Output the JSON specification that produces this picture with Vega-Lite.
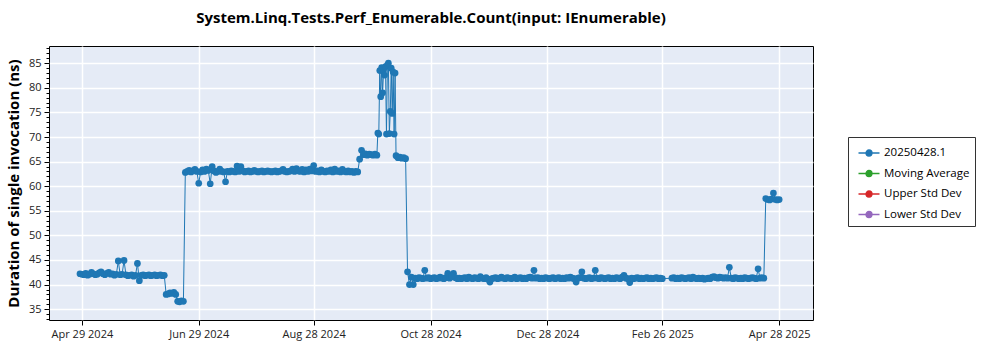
{
"$schema":"https://vega.github.io/schema/vega-lite/v6.json",
"width":764,"height":274,
"autosize":{"type":"none"},
"padding":{"left":49,"top":46,"right":187,"bottom":30},
"background":"white",
"config":{
 "view":{"fill":"#e5ebf6","stroke":"#000","strokeWidth":1},
 "font":"Open Sans",
 "axis":{"labelFont":"Open Sans","labelFontSize":11,"labelColor":"#222","tickColor":"#000","domain":false,"gridColor":"white","gridWidth":1.5,"tickSize":5}
},
"title":{"text":"System.Linq.Tests.Perf_Enumerable.Count(input: IEnumerable)","fontSize":15,"fontWeight":"bold","font":"Open Sans","anchor":"middle","offset":20,"color":"#000"},
"data":{"values":[
{"t":"2024-04-28","v":42.2},{"t":"2024-04-29","v":42.1},{"t":"2024-04-30","v":42.0},{"t":"2024-05-01","v":42.3},{"t":"2024-05-02","v":41.9},{"t":"2024-05-03","v":42.1},{"t":"2024-05-04","v":42.5},{"t":"2024-05-05","v":42.2},{"t":"2024-05-06","v":42.0},{"t":"2024-05-07","v":42.1},{"t":"2024-05-08","v":42.4},{"t":"2024-05-09","v":42.6},{"t":"2024-05-10","v":42.2},{"t":"2024-05-11","v":42.0},{"t":"2024-05-12","v":42.3},{"t":"2024-05-13","v":42.5},{"t":"2024-05-14","v":42.1},{"t":"2024-05-15","v":42.2},{"t":"2024-05-16","v":41.9},{"t":"2024-05-17","v":42.1},{"t":"2024-05-18","v":44.8},{"t":"2024-05-19","v":42.0},{"t":"2024-05-20","v":42.1},{"t":"2024-05-21","v":44.9},{"t":"2024-05-22","v":42.0},{"t":"2024-05-23","v":41.8},{"t":"2024-05-24","v":41.9},{"t":"2024-05-25","v":42.0},{"t":"2024-05-26","v":41.7},{"t":"2024-05-27","v":41.9},{"t":"2024-05-28","v":44.3},{"t":"2024-05-29","v":40.8},{"t":"2024-05-30","v":41.9},{"t":"2024-05-31","v":42.0},
{"t":"2024-06-01","v":41.8},{"t":"2024-06-02","v":41.9},{"t":"2024-06-03","v":42.0},{"t":"2024-06-04","v":41.8},{"t":"2024-06-05","v":41.9},{"t":"2024-06-06","v":42.0},{"t":"2024-06-07","v":41.8},{"t":"2024-06-08","v":41.9},{"t":"2024-06-09","v":42.0},{"t":"2024-06-10","v":41.8},{"t":"2024-06-11","v":41.9},{"t":"2024-06-12","v":38.0},{"t":"2024-06-13","v":38.1},{"t":"2024-06-14","v":38.3},{"t":"2024-06-15","v":38.2},{"t":"2024-06-16","v":38.4},{"t":"2024-06-17","v":38.0},{"t":"2024-06-18","v":36.6},{"t":"2024-06-19","v":36.5},{"t":"2024-06-20","v":36.7},{"t":"2024-06-21","v":36.6},{"t":"2024-06-22","v":62.8},{"t":"2024-06-23","v":63.0},{"t":"2024-06-24","v":63.2},{"t":"2024-06-25","v":62.9},{"t":"2024-06-26","v":63.1},{"t":"2024-06-27","v":63.4},{"t":"2024-06-28","v":63.0},{"t":"2024-06-29","v":60.6},{"t":"2024-06-30","v":62.9},
{"t":"2024-07-01","v":63.3},{"t":"2024-07-02","v":63.0},{"t":"2024-07-03","v":63.5},{"t":"2024-07-04","v":63.2},{"t":"2024-07-05","v":60.5},{"t":"2024-07-06","v":64.0},{"t":"2024-07-07","v":63.1},{"t":"2024-07-08","v":62.8},{"t":"2024-07-09","v":63.0},{"t":"2024-07-10","v":63.5},{"t":"2024-07-11","v":63.0},{"t":"2024-07-12","v":62.9},{"t":"2024-07-13","v":60.9},{"t":"2024-07-14","v":63.0},{"t":"2024-07-15","v":62.9},{"t":"2024-07-16","v":63.1},{"t":"2024-07-17","v":63.0},{"t":"2024-07-18","v":62.9},{"t":"2024-07-19","v":64.1},{"t":"2024-07-20","v":63.0},{"t":"2024-07-21","v":64.0},{"t":"2024-07-22","v":63.1},{"t":"2024-07-23","v":62.9},{"t":"2024-07-24","v":63.0},{"t":"2024-07-25","v":63.1},{"t":"2024-07-26","v":62.9},{"t":"2024-07-27","v":63.0},{"t":"2024-07-28","v":63.2},{"t":"2024-07-29","v":63.0},{"t":"2024-07-30","v":62.9},{"t":"2024-07-31","v":63.0},
{"t":"2024-08-01","v":63.1},{"t":"2024-08-02","v":62.9},{"t":"2024-08-03","v":63.0},{"t":"2024-08-04","v":63.1},{"t":"2024-08-05","v":63.0},{"t":"2024-08-06","v":62.9},{"t":"2024-08-07","v":63.0},{"t":"2024-08-08","v":63.1},{"t":"2024-08-09","v":62.9},{"t":"2024-08-10","v":63.0},{"t":"2024-08-11","v":63.1},{"t":"2024-08-12","v":63.4},{"t":"2024-08-13","v":63.0},{"t":"2024-08-14","v":62.9},{"t":"2024-08-15","v":63.0},{"t":"2024-08-16","v":63.1},{"t":"2024-08-17","v":63.5},{"t":"2024-08-18","v":63.0},{"t":"2024-08-19","v":63.6},{"t":"2024-08-20","v":63.1},{"t":"2024-08-21","v":63.0},{"t":"2024-08-22","v":63.4},{"t":"2024-08-23","v":62.9},{"t":"2024-08-24","v":63.3},{"t":"2024-08-25","v":63.0},{"t":"2024-08-26","v":63.5},{"t":"2024-08-27","v":63.1},{"t":"2024-08-28","v":64.2},{"t":"2024-08-29","v":63.0},{"t":"2024-08-30","v":63.1},{"t":"2024-08-31","v":62.9},
{"t":"2024-09-01","v":63.3},{"t":"2024-09-02","v":63.0},{"t":"2024-09-03","v":62.9},{"t":"2024-09-04","v":63.1},{"t":"2024-09-05","v":63.0},{"t":"2024-09-06","v":63.3},{"t":"2024-09-07","v":62.9},{"t":"2024-09-08","v":63.5},{"t":"2024-09-09","v":63.0},{"t":"2024-09-10","v":63.1},{"t":"2024-09-11","v":62.9},{"t":"2024-09-12","v":63.4},{"t":"2024-09-13","v":63.0},{"t":"2024-09-14","v":62.9},{"t":"2024-09-15","v":63.1},{"t":"2024-09-16","v":62.9},{"t":"2024-09-17","v":63.0},{"t":"2024-09-18","v":62.8},{"t":"2024-09-19","v":63.0},{"t":"2024-09-20","v":62.9},{"t":"2024-09-21","v":65.5},{"t":"2024-09-22","v":67.3},{"t":"2024-09-23","v":66.4},{"t":"2024-09-24","v":66.6},{"t":"2024-09-25","v":66.3},{"t":"2024-09-26","v":66.5},{"t":"2024-09-27","v":66.4},{"t":"2024-09-28","v":66.3},{"t":"2024-09-29","v":66.5},{"t":"2024-09-30","v":66.3},
{"t":"2024-09-30T12:00:00Z","v":70.8},{"t":"2024-10-01","v":70.6},{"t":"2024-10-01T12:00:00Z","v":83.5},{"t":"2024-10-02","v":78.2},{"t":"2024-10-02T12:00:00Z","v":84.1},{"t":"2024-10-03","v":79.0},{"t":"2024-10-03T12:00:00Z","v":83.6},{"t":"2024-10-04","v":82.6},{"t":"2024-10-04T12:00:00Z","v":84.3},{"t":"2024-10-05","v":70.6},{"t":"2024-10-05T12:00:00Z","v":84.6},{"t":"2024-10-06","v":85.0},{"t":"2024-10-06T12:00:00Z","v":70.7},{"t":"2024-10-07","v":75.2},{"t":"2024-10-07T12:00:00Z","v":84.0},{"t":"2024-10-08","v":74.8},{"t":"2024-10-08T12:00:00Z","v":83.2},{"t":"2024-10-09","v":70.6},{"t":"2024-10-09T12:00:00Z","v":83.0},
{"t":"2024-10-10","v":66.2},{"t":"2024-10-11","v":65.8},{"t":"2024-10-12","v":65.9},{"t":"2024-10-13","v":65.7},{"t":"2024-10-14","v":65.8},{"t":"2024-10-15","v":65.6},{"t":"2024-10-16","v":42.6},{"t":"2024-10-17","v":40.0},{"t":"2024-10-18","v":41.5},{"t":"2024-10-19","v":40.0},{"t":"2024-10-20","v":41.3},{"t":"2024-10-21","v":41.2},{"t":"2024-10-22","v":41.4},{"t":"2024-10-23","v":41.3},{"t":"2024-10-24","v":41.2},{"t":"2024-10-25","v":42.9},{"t":"2024-10-26","v":41.3},{"t":"2024-10-27","v":41.4},{"t":"2024-10-28","v":41.2},{"t":"2024-10-29","v":41.3},{"t":"2024-10-30","v":41.4},{"t":"2024-10-31","v":41.2},
{"t":"2024-11-01","v":41.3},{"t":"2024-11-02","v":41.5},{"t":"2024-11-03","v":41.3},{"t":"2024-11-04","v":41.2},{"t":"2024-11-05","v":41.4},{"t":"2024-11-06","v":42.3},{"t":"2024-11-07","v":41.3},{"t":"2024-11-08","v":41.6},{"t":"2024-11-09","v":42.3},{"t":"2024-11-10","v":41.4},{"t":"2024-11-11","v":41.2},{"t":"2024-11-12","v":41.3},{"t":"2024-11-13","v":41.2},{"t":"2024-11-14","v":41.3},{"t":"2024-11-15","v":41.4},{"t":"2024-11-16","v":41.2},{"t":"2024-11-17","v":41.5},{"t":"2024-11-18","v":41.3},{"t":"2024-11-19","v":41.2},{"t":"2024-11-20","v":41.4},{"t":"2024-11-21","v":41.3},{"t":"2024-11-22","v":41.2},{"t":"2024-11-23","v":41.6},{"t":"2024-11-24","v":41.3},{"t":"2024-11-25","v":41.2},{"t":"2024-11-26","v":41.4},{"t":"2024-11-27","v":41.1},{"t":"2024-11-28","v":40.5},{"t":"2024-11-29","v":41.2},{"t":"2024-11-30","v":41.3},
{"t":"2024-12-01","v":41.4},{"t":"2024-12-02","v":41.2},{"t":"2024-12-03","v":41.3},{"t":"2024-12-04","v":41.5},{"t":"2024-12-05","v":41.3},{"t":"2024-12-06","v":41.2},{"t":"2024-12-07","v":41.4},{"t":"2024-12-08","v":41.3},{"t":"2024-12-09","v":41.2},{"t":"2024-12-10","v":41.3},{"t":"2024-12-11","v":41.5},{"t":"2024-12-12","v":41.2},{"t":"2024-12-13","v":41.3},{"t":"2024-12-14","v":41.4},{"t":"2024-12-15","v":41.2},{"t":"2024-12-16","v":41.3},{"t":"2024-12-17","v":41.2},{"t":"2024-12-18","v":41.4},{"t":"2024-12-19","v":41.5},{"t":"2024-12-20","v":41.3},{"t":"2024-12-21","v":42.9},{"t":"2024-12-22","v":41.3},{"t":"2024-12-23","v":41.4},{"t":"2024-12-24","v":41.2},{"t":"2024-12-25","v":41.3},{"t":"2024-12-26","v":41.2},{"t":"2024-12-27","v":41.4},{"t":"2024-12-28","v":41.3},{"t":"2024-12-29","v":41.2},{"t":"2024-12-30","v":41.3},{"t":"2024-12-31","v":41.4},
{"t":"2025-01-01","v":41.2},{"t":"2025-01-02","v":41.3},{"t":"2025-01-03","v":41.4},{"t":"2025-01-04","v":41.2},{"t":"2025-01-05","v":41.3},{"t":"2025-01-06","v":41.2},{"t":"2025-01-07","v":41.4},{"t":"2025-01-08","v":41.3},{"t":"2025-01-09","v":41.5},{"t":"2025-01-10","v":41.3},{"t":"2025-01-11","v":41.2},{"t":"2025-01-12","v":40.5},{"t":"2025-01-13","v":41.3},{"t":"2025-01-14","v":41.4},{"t":"2025-01-15","v":42.6},{"t":"2025-01-16","v":41.3},{"t":"2025-01-17","v":41.2},{"t":"2025-01-18","v":41.3},{"t":"2025-01-19","v":41.4},{"t":"2025-01-20","v":41.2},{"t":"2025-01-21","v":41.3},{"t":"2025-01-22","v":42.9},{"t":"2025-01-23","v":41.3},{"t":"2025-01-24","v":41.2},{"t":"2025-01-25","v":41.4},{"t":"2025-01-26","v":41.3},{"t":"2025-01-27","v":41.2},{"t":"2025-01-28","v":41.3},{"t":"2025-01-29","v":41.4},{"t":"2025-01-30","v":41.2},{"t":"2025-01-31","v":41.3},
{"t":"2025-02-01","v":41.2},{"t":"2025-02-02","v":41.4},{"t":"2025-02-03","v":41.3},{"t":"2025-02-04","v":41.2},{"t":"2025-02-05","v":41.5},{"t":"2025-02-06","v":41.9},{"t":"2025-02-07","v":41.3},{"t":"2025-02-08","v":41.2},{"t":"2025-02-09","v":40.4},{"t":"2025-02-10","v":41.3},{"t":"2025-02-11","v":41.2},{"t":"2025-02-12","v":41.3},{"t":"2025-02-13","v":41.4},{"t":"2025-02-14","v":41.2},{"t":"2025-02-15","v":41.3},{"t":"2025-02-16","v":41.2},{"t":"2025-02-17","v":41.3},{"t":"2025-02-18","v":41.4},{"t":"2025-02-19","v":41.2},{"t":"2025-02-20","v":41.3},{"t":"2025-02-21","v":41.2},{"t":"2025-02-22","v":41.3},{"t":"2025-02-23","v":41.4},{"t":"2025-02-24","v":41.2},{"t":"2025-02-25","v":41.3},{"t":"2025-02-26","v":41.2},
{"t":"2025-03-03","v":41.3},{"t":"2025-03-04","v":41.4},{"t":"2025-03-05","v":41.2},{"t":"2025-03-06","v":41.3},{"t":"2025-03-07","v":41.2},{"t":"2025-03-08","v":41.4},{"t":"2025-03-09","v":41.3},{"t":"2025-03-10","v":41.2},{"t":"2025-03-11","v":41.3},{"t":"2025-03-12","v":41.4},{"t":"2025-03-13","v":41.2},{"t":"2025-03-14","v":41.5},{"t":"2025-03-15","v":41.3},{"t":"2025-03-16","v":41.2},{"t":"2025-03-17","v":41.3},{"t":"2025-03-18","v":41.2},{"t":"2025-03-19","v":41.3},{"t":"2025-03-20","v":41.1},{"t":"2025-03-21","v":41.2},{"t":"2025-03-22","v":41.3},{"t":"2025-03-23","v":41.2},{"t":"2025-03-24","v":41.5},{"t":"2025-03-25","v":41.6},{"t":"2025-03-26","v":41.4},{"t":"2025-03-27","v":41.3},{"t":"2025-03-28","v":41.5},{"t":"2025-03-29","v":41.4},{"t":"2025-03-30","v":41.3},{"t":"2025-03-31","v":41.4},
{"t":"2025-04-01","v":41.3},{"t":"2025-04-02","v":43.5},{"t":"2025-04-03","v":41.3},{"t":"2025-04-04","v":41.2},{"t":"2025-04-05","v":41.4},{"t":"2025-04-06","v":41.3},{"t":"2025-04-07","v":41.2},{"t":"2025-04-08","v":41.3},{"t":"2025-04-09","v":41.2},{"t":"2025-04-10","v":41.4},{"t":"2025-04-11","v":41.3},{"t":"2025-04-12","v":41.2},{"t":"2025-04-13","v":41.3},{"t":"2025-04-14","v":41.4},{"t":"2025-04-15","v":41.3},{"t":"2025-04-16","v":41.2},{"t":"2025-04-17","v":43.2},{"t":"2025-04-18","v":41.3},{"t":"2025-04-19","v":41.4},{"t":"2025-04-20","v":41.3},{"t":"2025-04-21","v":57.5},{"t":"2025-04-22","v":57.3},{"t":"2025-04-23","v":57.2},{"t":"2025-04-24","v":57.4},{"t":"2025-04-25","v":58.6},{"t":"2025-04-26","v":57.3},{"t":"2025-04-27","v":57.2},{"t":"2025-04-28","v":57.3}
]},
"encoding":{
 "x":{"field":"t","type":"temporal",
  "scale":{"type":"utc","domain":[{"year":2024,"month":"Apr","date":11,"hours":20,"utc":true},{"year":2025,"month":"May","date":15,"hours":16,"utc":true}]},
  "axis":{"title":null,"grid":true,"labelExpr":"utcFormat(datum.value, '%b %d %Y')","labelPadding":3,
   "values":[{"year":2024,"month":"Apr","date":29,"utc":true},{"year":2024,"month":"Jun","date":29,"utc":true},{"year":2024,"month":"Aug","date":28,"utc":true},{"year":2024,"month":"Oct","date":28,"utc":true},{"year":2024,"month":"Dec","date":28,"utc":true},{"year":2025,"month":"Feb","date":26,"utc":true},{"year":2025,"month":"Apr","date":28,"utc":true}]}},
 "color":{"datum":"20250428.1","type":"nominal",
  "scale":{"domain":["20250428.1","Moving Average","Upper Std Dev","Lower Std Dev"],"range":["#1f77b4","#2ca02c","#d62728","#9467bd"]},
  "legend":{"orient":"none","legendX":799,"legendY":91,"title":null,"strokeColor":"#333","fillColor":"white","padding":5,
   "symbolType":"M-0.55,0H1.55M0.2,0A0.3,0.3 0 1 0 0.8,0A0.3,0.3 0 1 0 0.2,0Z","symbolSize":400,"symbolStrokeWidth":1.3,
   "labelFont":"Open Sans","labelFontSize":11.5,"labelColor":"#000","labelOffset":9,"rowPadding":3.5,
   "encode":{"symbols":{"update":{"fill":{"scale":"color","field":"value"},"stroke":{"scale":"color","field":"value"},"opacity":{"value":1}}}}}}
},
"layer":[
 {"mark":{"type":"line","strokeWidth":1},
  "encoding":{"y":{"field":"v","type":"quantitative","scale":{"domain":[32.8,88.5],"nice":false,"zero":false},
   "axis":{"orient":"left","values":[33,34,35,36,37,38,39,40,41,42,43,44,45,46,47,48,49,50,51,52,53,54,55,56,57,58,59,60,61,62,63,64,65,66,67,68,69,70,71,72,73,74,75,76,77,78,79,80,81,82,83,84,85,86,87,88],"labels":false,"grid":false,"tickSize":3,"title":null}}}},
 {"mark":{"type":"point","filled":true,"size":45,"opacity":1},
  "encoding":{"y":{"field":"v","type":"quantitative","scale":{"domain":[32.8,88.5],"nice":false,"zero":false},
   "axis":{"orient":"left","values":[35,40,45,50,55,60,65,70,75,80,85],"grid":true,"tickSize":5,"labelPadding":3,
    "title":"Duration of single invocation (ns)","titleFont":"Open Sans","titleFontSize":15,"titleFontWeight":"bold","titleColor":"#000","titlePadding":7}}}}
],
"resolve":{"scale":{"y":"independent"}}
}
